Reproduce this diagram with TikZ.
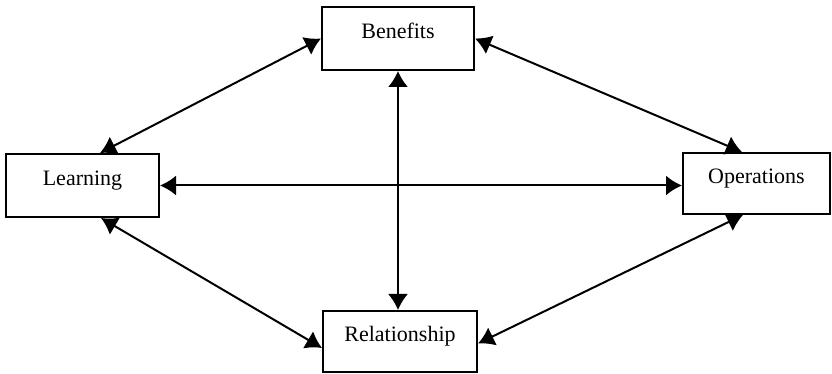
\documentclass[tikz,border=0pt]{standalone}
\usepackage{fontspec}
\setmainfont{Liberation Serif}
\usetikzlibrary{arrows.meta,calc}

\begin{document}
\begin{tikzpicture}[x=0.5pt,y=-0.5pt,
    factor/.style={draw,line width=1pt,inner sep=0pt,font=\fontsize{11}{13}\selectfont,
      text height=6pt,text depth=6pt},
    link/.style={line width=1pt,{Latex[length=8pt,width=10pt]}-{Latex[length=8pt,width=10pt]}}]
    \useasboundingbox (0,0) rectangle (832,374);
    % Boxes
    \node[factor,minimum width=76pt,minimum height=31.5pt] (ben) at (398,38.5) {Benefits};
    \node[factor,minimum width=76.5pt,minimum height=31.5pt] (learn) at (82.5,185.5) {Learning};
    \node[factor,minimum width=73.5pt,minimum height=30.5pt] (oper) at (756.5,183.5) {Operations};
    \node[factor,minimum width=77pt,minimum height=30.5pt] (rel) at (400,341.5) {Relationship};

    % Connectors
    \draw[link] ($(learn.north)+(17.5,0)$) -- (ben.west);
    \draw[link] (ben.east) -- ($(oper.north)+(-14.5,0)$);
    \draw[link] (ben.south) -- (rel.north -| ben.south);
    \draw[link] (learn.east) -- (oper.west |- learn.east);
    \draw[link] ($(learn.south)+(18.5,0)$) -- ($(rel.west)+(0,6.5)$);
    \draw[link] ($(oper.south)+(-13.5,0)$) -- ($(rel.east)+(0,2)$);
\end{tikzpicture}
\end{document}
